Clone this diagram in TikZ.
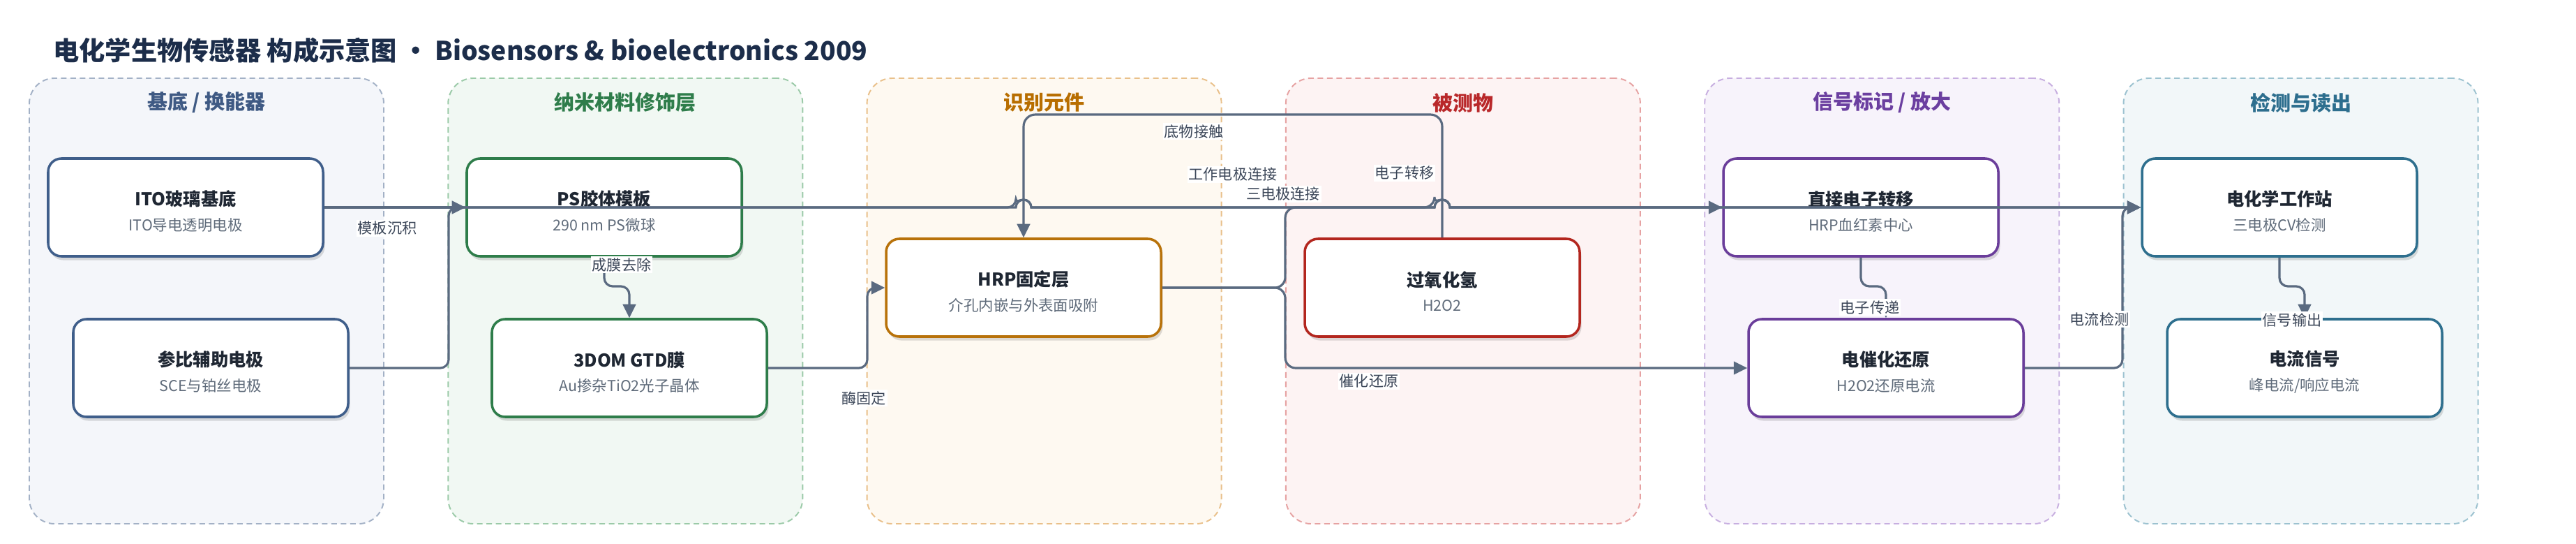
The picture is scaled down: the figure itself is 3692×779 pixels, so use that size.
\documentclass[tikz,border=0pt]{standalone}
\usepackage{fontspec}
\setmainfont{Noto Sans CJK SC}
\usetikzlibrary{arrows.meta,shadows}
\definecolor{titlec}{HTML}{1C2D4A}
\definecolor{edgec}{HTML}{5A6A80}
\definecolor{labc}{HTML}{3B4658}
\definecolor{ntitle}{HTML}{1F2733}
\definecolor{nsub}{HTML}{5F6B7A}
% lane colours
\definecolor{laA}{HTML}{F4F6FA}\definecolor{lbA}{HTML}{A3B1C6}\definecolor{ltA}{HTML}{3F5A84}\definecolor{nbA}{HTML}{3F5E8A}
\definecolor{laB}{HTML}{F1F8F3}\definecolor{lbB}{HTML}{9BCAA8}\definecolor{ltB}{HTML}{2F7D4B}\definecolor{nbB}{HTML}{2E7D4A}
\definecolor{laC}{HTML}{FEF9F1}\definecolor{lbC}{HTML}{E9C08A}\definecolor{ltC}{HTML}{B86E00}\definecolor{nbC}{HTML}{B8720A}
\definecolor{laD}{HTML}{FDF3F3}\definecolor{lbD}{HTML}{E6A2A2}\definecolor{ltD}{HTML}{B9282A}\definecolor{nbD}{HTML}{B3261E}
\definecolor{laE}{HTML}{F7F3FB}\definecolor{lbE}{HTML}{C7AEE0}\definecolor{ltE}{HTML}{6B3FA0}\definecolor{nbE}{HTML}{6A3D9A}
\definecolor{laF}{HTML}{F2F7F9}\definecolor{lbF}{HTML}{9CC2D0}\definecolor{ltF}{HTML}{2D6E8E}\definecolor{nbF}{HTML}{2E6F8E}
\newcommand{\nt}[2]{\rule{0pt}{18.7pt}{\bfseries\fontsize{14.4pt}{20pt}\selectfont\color{ntitle}#1}\\{\fontsize{12.2pt}{20pt}\selectfont\color{nsub}#2}}
\begin{document}
\begin{tikzpicture}[x=0.2mm,y=-0.2mm,
  lane/.style n args={2}{draw=#1, fill=#2, line width=1.1pt, dash pattern=on 1.6mm off 1.1mm,
     rounded corners=7.2mm, minimum width=101.6mm, minimum height=127.6mm, inner sep=0pt},
  lanetitle/.style={font=\bfseries\fontsize{16.5pt}{20pt}\selectfont, text=#1},
  box/.style={draw=#1, fill=white, line width=2pt, rounded corners=3.8mm,
     minimum width=78.8mm, minimum height=28mm, align=center, inner sep=0pt,
     font=\fontsize{12.2pt}{20pt}\selectfont,
     drop shadow={shadow xshift=0.5mm, shadow yshift=-1.1mm, opacity=0.13, fill=black}},
  edge/.style={draw=edgec, line width=1.8pt, -{Triangle[length=3.9mm,width=3.7mm]}},
  elabel/.style={fill=white, text=labc, font=\fontsize{12pt}{14pt}\selectfont, inner sep=1.2pt}]
\useasboundingbox (0,0) rectangle (3692,779);
\fill[white] (0,0) rectangle (3692,779);
% title
\node[anchor=west, text=titlec, font=\bfseries\fontsize{21.2pt}{26pt}\selectfont, inner sep=0pt] (title) at (76,72)
  {电化学生物传感器 构成示意图 · Biosensors \& bioelectronics 2009};
% lanes
\node[lane={lbA}{laA}] (L1) at (296,431) {};
\node[lane={lbB}{laB}] (L2) at (896.3,431) {};
\node[lane={lbC}{laC}] (L3) at (1496.6,431) {};
\node[lane={lbD}{laD}] (L4) at (2096.9,431) {};
\node[lane={lbE}{laE}] (L5) at (2697.2,431) {};
\node[lane={lbF}{laF}] (L6) at (3297.5,431) {};
\node[lanetitle=ltA] (T1) at (296,147) {基底 / 换能器};
\node[lanetitle=ltB] (T2) at (896.3,147) {纳米材料修饰层};
\node[lanetitle=ltC] (T3) at (1496.6,147) {识别元件};
\node[lanetitle=ltD] (T4) at (2096.9,147) {被测物};
\node[lanetitle=ltE] (T5) at (2697.2,147) {信号标记 / 放大};
\node[lanetitle=ltF] (T6) at (3297.5,147) {检测与读出};
% nodes
\node[box=nbA] (ito) at (266,297) {\nt{ITO玻璃基底}{ITO导电透明电极}};
\node[box=nbA] (ref) at (302,527) {\nt{参比辅助电极}{SCE与铂丝电极}};
\node[box=nbB] (ps) at (866,297) {\nt{PS胶体模板}{290 nm PS微球}};
\node[box=nbB] (dom) at (902,527) {\nt{3DOM GTD膜}{Au掺杂TiO2光子晶体}};
\node[box=nbC] (hrp) at (1467,412) {\nt{HRP固定层}{介孔内嵌与外表面吸附}};
\node[box=nbD] (hoo) at (2067,412) {\nt{过氧化氢}{H2O2}};
\node[box=nbE] (det) at (2667,297) {\nt{直接电子转移}{HRP血红素中心}};
\node[box=nbE] (cat) at (2703,527) {\nt{电催化还原}{H2O2还原电流}};
\node[box=nbF] (wk) at (3267,297) {\nt{电化学工作站}{三电极CV检测}};
\node[box=nbF] (sig) at (3303,527) {\nt{电流信号}{峰电流/响应电流}};
% edges
\draw[edge] (ito.east) -- (ps.west);
\draw[edge, rounded corners=3.4mm] (hoo.north) -- (2067,164) -- (1467,164) -- (hrp.north);
\draw[edge] (ito.east) -- (1456,297) arc[start angle=180, end angle=0, radius=2.2mm]
   -- (2056,297) arc[start angle=180, end angle=0, radius=2.2mm] -- (wk.west);
\draw[edge, rounded corners=2.4mm] (ref.east) -- (643,527) -- (643,297) -- (1456,297)
   [sharp corners] arc[start angle=180, end angle=0, radius=2.2mm]
   -- (2056,297) arc[start angle=180, end angle=0, radius=2.2mm] -- (wk.west);
\draw[edge, rounded corners=2.4mm] (dom.east) -- (1243,527) -- (1243,412) -- (hrp.west);
\draw[edge, rounded corners=3mm] (hrp.east) -- (1842,412) -- (1842,297) -- (2056,297)
   [sharp corners] arc[start angle=180, end angle=0, radius=2.2mm] -- (det.west);
\draw[edge, rounded corners=3mm] (hrp.east) -- (1842,412) -- (1842,527) -- (cat.west);
\draw[edge, rounded corners=2.4mm] (cat.east) -- (3042,527) -- (3042,297) -- (wk.west);
\draw[edge, rounded corners=2.4mm] (ps.south) -- (866,410) -- (902,410) -- (dom.north);
\draw[edge, rounded corners=2.4mm] (det.south) -- (2667,410) -- (2703,410) -- (cat.north);
\draw[edge, rounded corners=2.4mm] (wk.south) -- (3267,410) -- (3303,410) -- (sig.north);
% edge labels
\node[elabel] (l1) at (555,327) {模板沉积};
\node[elabel] (l2) at (891,379) {成膜去除};
\node[elabel] (l3) at (1238,570) {酶固定};
\node[elabel] (l4) at (1711,188) {底物接触};
\node[elabel] (l5) at (1767,250) {工作电极连接};
\node[elabel] (l6) at (1839,278) {三电极连接};
\node[elabel] (l7) at (2013,248) {电子转移};
\node[elabel] (l8) at (1962,546) {催化还原};
\node[elabel] (l9) at (2680,440) {电子传递};
\node[elabel] (l10) at (3009,457) {电流检测};
\node[elabel] (l11) at (3285,458) {信号输出};
\end{tikzpicture}
\end{document}
